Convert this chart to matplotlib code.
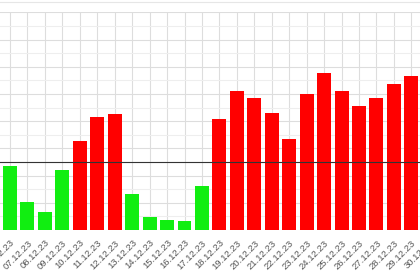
import matplotlib
matplotlib.use("Agg")
import matplotlib.pyplot as plt
from matplotlib.lines import Line2D
from matplotlib.ticker import MultipleLocator


DATES = [
    "06.12.23", "07.12.23", "08.12.23", "09.12.23", "10.12.23", "11.12.23",
    "12.12.23", "13.12.23", "14.12.23", "15.12.23", "16.12.23", "17.12.23",
    "18.12.23", "19.12.23", "20.12.23", "21.12.23", "22.12.23", "23.12.23",
    "24.12.23", "25.12.23", "26.12.23", "27.12.23", "28.12.23", "29.12.23",
    "30.12.23",
]
VALUES = [
    4.73, 2.04, 1.32, 4.39, 6.54, 8.29,
    8.55, 2.65, 0.98, 0.74, 0.66, 3.26,
    8.16, 10.2, 9.73, 8.63, 6.71, 9.98,
    11.52, 10.2, 9.14, 9.73, 10.71, 11.32,
    11.0,
]
THRESHOLD = 5.0

GREEN = "#11ee11"
RED = "#ff0000"

plt.rcParams.update({"font.family": ["Liberation Sans", "DejaVu Sans"]})

fig = plt.figure(figsize=(4.2, 2.8), dpi=100, facecolor="white")

# axes deliberately run past the figure edges (the reference is a crop)
step = 17.45
x_min, x_max = -1.5, 25.0
y_max = 16.03
left_px = 10 + x_min * step
width_px = (x_max - x_min) * step
height_px = y_max * 13.6
ax = fig.add_axes([left_px / 420, 50 / 280, width_px / 420, height_px / 280])

positions = list(range(len(DATES)))
colors = [RED if v > THRESHOLD else GREEN for v in VALUES]
ax.bar(positions, VALUES, width=0.8, color=colors, zorder=2)
ax.axhline(THRESHOLD, color="#333333", linewidth=0.8, zorder=3)

ax.set_xlim(x_min, x_max)
ax.set_ylim(0, y_max)
ax.set_xticks(positions)
ax.set_xticklabels(DATES, rotation=45, ha="right", va="top", rotation_mode="anchor")
ax.tick_params(axis="x", length=0, pad=6, labelsize=6.8, labelcolor="#555555")
ax.tick_params(axis="y", left=False, labelleft=False, which="both")
ax.yaxis.set_major_locator(MultipleLocator(2))
ax.yaxis.set_minor_locator(MultipleLocator(1))
ax.grid(axis="x", color="#dddddd", linewidth=0.8, zorder=0)
ax.grid(axis="y", which="major", color="#dddddd", linewidth=0.8, zorder=0)
ax.grid(axis="y", which="minor", color="#eeeeee", linewidth=0.8, zorder=0)
ax.set_axisbelow(True)
for spine in ax.spines.values():
    spine.set_visible(False)

fig.add_artist(Line2D([0, 1], [1 - 2.3 / 280, 1 - 2.3 / 280], color="#e6e6e6", linewidth=0.8))

fig.savefig("out.png", dpi=100, facecolor="white")
